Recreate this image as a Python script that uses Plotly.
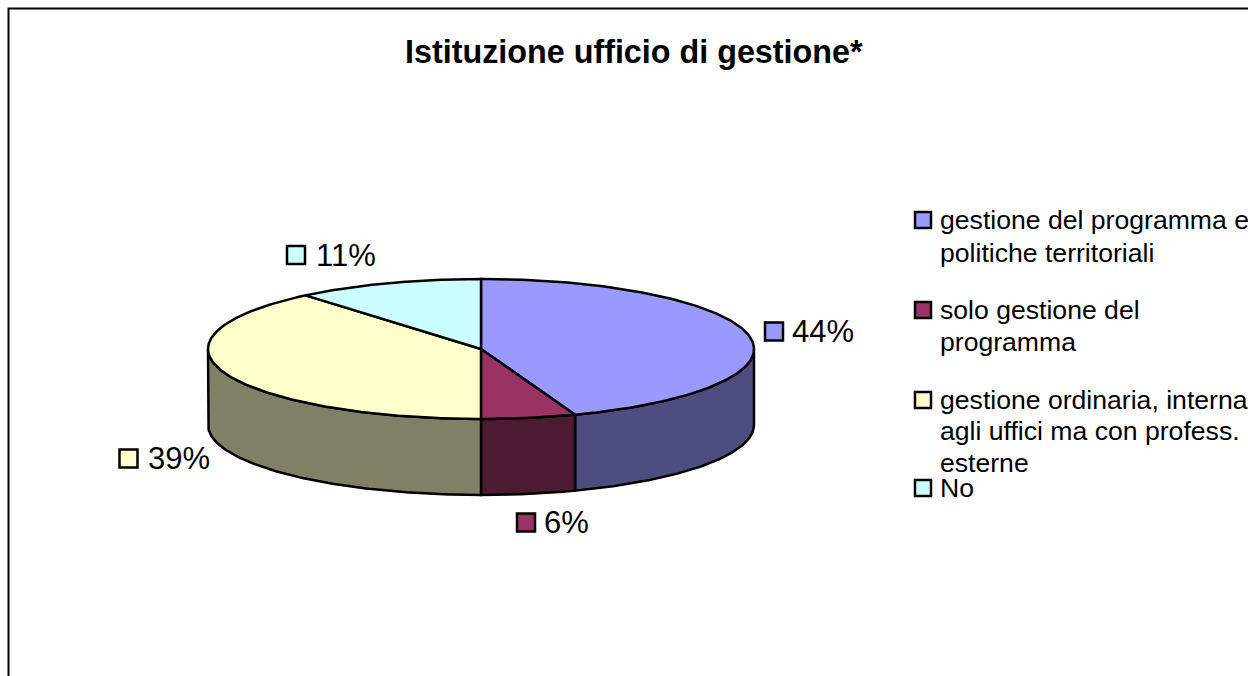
import numpy as np
import plotly.graph_objects as go

# ---- data ----
title = "Istituzione ufficio di gestione*"
categories = ["gestione del programma e politiche territoriali",
              "solo gestione del programma",
              "gestione ordinaria, interna agli uffici ma con profess. esterne",
              "No"]
values = [44.4, 5.6, 38.9, 11.1]
labels = ["44%", "6%", "39%", "11%"]
legend_lines = [["gestione del programma e", "politiche territoriali"],
                ["solo gestione del", "programma"],
                ["gestione ordinaria, interna", "agli uffici ma con profess.", "esterne"],
                ["No"]]

# ---- style / layout ----
top_colors = ["#9999FF", "#993366", "#FFFFCC", "#CCFFFF"]
side_colors = ["#4D4D80", "#4D1A33", "#808066", "#668080"]
FONT = "Liberation Sans, Arial, sans-serif"
CX, CY, RX, RY, DEPTH = 481, 349, 273, 70, 76
label_box = [(774, 331.5), (526, 522.5), (128.5, 458.5), (296, 255)]
label_text_x = [791, 543, 147, 315]
legend_box = [(923, 220), (923, 310), (923, 400), (923, 488)]
legend_text_x = 939
legend_line_y = [[220, 253], [310, 342], [400, 431, 463], [488]]

def ell(f, depth=0.0):
    a = 2 * np.pi * np.asarray(f)
    return CX + RX * np.sin(a), CY - RY * np.cos(a) + depth

fig = go.Figure()
line = dict(color="black", width=2.5)
fracs = np.cumsum([0] + values) / sum(values)

# side walls: only the front half of the rim is visible
for i in range(len(values)):
    a, b = max(fracs[i], .25), min(fracs[i + 1], .75)
    if b <= a:
        continue
    t = np.linspace(a, b, 120)
    x1, y1 = ell(t)
    x2, y2 = ell(t[::-1], DEPTH)
    fig.add_trace(go.Scatter(x=np.r_[x1, x2, x1[0]], y=np.r_[y1, y2, y1[0]], mode="lines",
                             fill="toself", fillcolor=side_colors[i], line=line))

# top wedges
for i in range(len(values)):
    t = np.linspace(fracs[i], fracs[i + 1], 200)
    x1, y1 = ell(t)
    fig.add_trace(go.Scatter(x=np.r_[CX, x1, CX], y=np.r_[CY, y1, CY], mode="lines",
                             fill="toself", fillcolor=top_colors[i], line=line))

# label and legend keys
fig.add_trace(go.Scatter(x=[p[0] for p in label_box], y=[p[1] for p in label_box], mode="markers",
                         marker=dict(symbol="square", size=18, color=top_colors,
                                     line=dict(color="black", width=2.5))))
fig.add_trace(go.Scatter(x=[p[0] for p in legend_box], y=[p[1] for p in legend_box], mode="markers",
                         marker=dict(symbol="square", size=16, color=top_colors,
                                     line=dict(color="black", width=2.5))))

ann = [dict(x=634, y=52, text=f"<b>{title}</b>", showarrow=False, xanchor="center", yanchor="middle",
            font=dict(size=32.3, family=FONT, color="black"))]
for lab, x, (_, y) in zip(labels, label_text_x, label_box):
    ann.append(dict(x=x, y=y, text=lab, showarrow=False, xanchor="left", yanchor="middle", xshift=-1,
                    font=dict(size=31, family=FONT, color="black")))
for lines, ys in zip(legend_lines, legend_line_y):
    for txt, y in zip(lines, ys):
        ann.append(dict(x=legend_text_x, y=y, text=txt, showarrow=False, xanchor="left", yanchor="middle",
                        xshift=-1, font=dict(size=26.6, family=FONT, color="black")))

fig.update_layout(
    width=1248, height=676, margin=dict(l=0, r=0, t=0, b=0, pad=0),
    paper_bgcolor="white", plot_bgcolor="white", showlegend=False, hovermode=False,
    xaxis=dict(range=[0, 1248], visible=False, fixedrange=True),
    yaxis=dict(range=[676, 0], visible=False, fixedrange=True),
    annotations=ann,
    shapes=[dict(type="path", path="M 8.5 676 L 8.5 8.5 L 1248 8.5", line=dict(color="black", width=2))],
)
fig.write_html("out.html", config={"displayModeBar": False},
               post_script="document.body.style.margin='0';document.documentElement.style.overflow='hidden';")
